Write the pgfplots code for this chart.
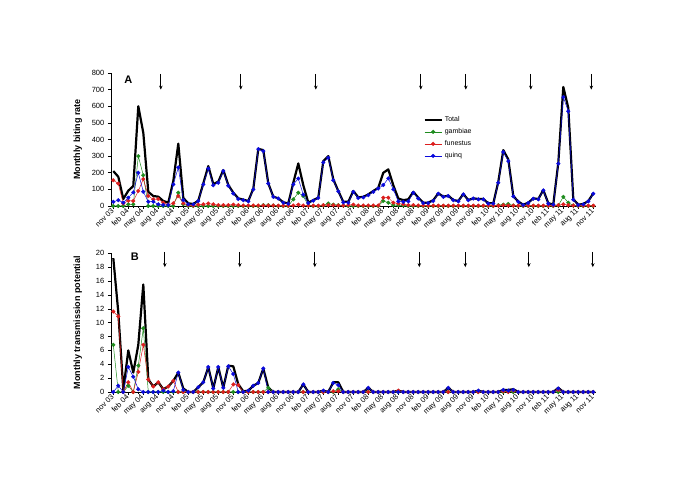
\documentclass[border=0pt]{standalone}
\usepackage{fontspec}
\setmainfont{Liberation Sans}
\usepackage{pgfplots}
\usepackage{pgfplotstable}
\pgfplotsset{compat=1.18}
\usetikzlibrary{arrows.meta}

\definecolor{gamb}{RGB}{30,140,30}
\definecolor{funs}{RGB}{220,30,30}
\definecolor{quin}{RGB}{10,10,220}

% monthly biting rate, nov 03 (i=0) to nov 11 (i=96)
\pgfplotstableread{
i tot gam fun qui
0 210 0 155 25
1 176 0 135 35
2 42 0 15 20
3 92 10 32 50
4 120 10 30 82
5 600 300 90 200
6 440 185 162 86
7 85 0 60 26
8 60 0 40 26
9 56 0 42 10
10 30 0 20 6
11 20 0 8 6
12 150 0 16 130
13 375 80 60 232
14 48 10 16 36
15 16 0 5 10
16 12 0 3 10
17 32 0 8 30
18 136 0 10 130
19 240 0 15 225
20 132 0 10 125
21 146 0 5 140
22 216 0 5 210
23 126 0 5 122
24 80 0 8 75
25 46 0 5 42
26 38 0 3 35
27 30 0 3 28
28 104 0 3 100
29 344 0 3 342
30 336 5 3 330
31 136 5 3 135
32 56 3 3 55
33 46 0 2 45
34 22 0 2 20
35 16 0 2 14
36 140 40 3 130
37 256 80 8 165
38 125 60 3 68
39 20 3 2 18
40 35 0 2 32
41 50 0 2 48
42 270 3 5 262
43 300 15 5 290
44 160 8 5 155
45 90 5 3 88
46 25 3 3 22
47 25 0 5 20
48 90 0 8 85
49 52 0 3 48
50 55 0 3 52
51 70 0 3 65
52 90 0 3 85
53 110 0 3 105
54 200 30 50 126
55 220 20 50 166
56 125 5 20 100
57 45 5 15 28
58 35 3 10 25
59 40 0 5 28
60 85 0 5 80
61 50 0 3 45
62 20 0 3 18
63 20 0 2 18
64 35 0 2 30
65 76 0 2 74
66 56 0 2 55
67 62 0 2 60
68 36 0 2 35
69 30 0 2 28
70 72 0 2 70
71 36 0 2 35
72 46 0 2 45
73 42 0 2 40
74 42 0 2 40
75 16 0 2 15
76 16 0 2 15
77 146 5 2 140
78 336 8 5 325
79 280 12 3 270
80 60 3 2 58
81 26 0 2 25
82 8 0 2 6
83 20 0 2 18
84 46 0 2 44
85 42 0 2 40
86 96 0 2 94
87 16 0 2 14
88 10 0 2 8
89 260 3 5 255
90 716 55 10 655
91 590 20 5 570
92 40 3 3 38
93 8 0 2 6
94 12 0 2 10
95 30 0 2 28
96 76 0 2 74
}\biting

% monthly transmission potential
\pgfplotstableread{
i tot gam fun qui
0 19.3 6.8 11.6 0
1 11.5 0 10.9 0.9
2 0.3 0 0 0
3 6.0 0.9 1.4 3.6
4 2.8 0 0 2.2
5 6.8 3.8 2.9 0.4
6 15.5 9.2 6.8 0
7 1.8 0 1.8 0
8 0.8 0 0.8 0
9 1.4 0 1.4 0
10 0.4 0 0.4 0.2
11 0.8 0 0.8 0
12 1.6 0 1.6 0.1
13 2.8 0 0 2.8
14 0.5 0 0 0.3
15 0 0 0 0
16 0 0 0 0
17 0.7 0 0 0.7
18 1.4 0 0 1.4
19 3.6 0 0 3.6
20 0.5 0 0 0.5
21 3.6 0 0 3.6
22 0.6 0 0 0.6
23 3.8 0 0 3.7
24 3.7 0 1.1 2.6
25 1.1 0 1.0 0
26 0.1 0 0 0
27 0.2 0 0 0.2
28 0.9 0 0 0.9
29 1.3 0 0 1.3
30 3.4 0 0 3.4
31 0.6 0.6 0 0
32 0 0 0 0
33 0 0 0 0
34 0 0 0 0
35 0 0 0 0
36 0 0 0 0
37 0 0 0 0
38 1.1 0 0 1.1
39 0 0 0 0
40 0 0 0 0
41 0 0 0 0
42 0.2 0 0 0.2
43 0 0 0 0
44 1.4 0 0.1 1.3
45 1.4 0.4 0.1 1.0
46 0 0 0 0
47 0 0 0 0
48 0 0 0 0
49 0 0 0 0
50 0 0 0 0
51 0.6 0 0 0.6
52 0 0 0 0
53 0 0 0 0
54 0 0 0 0
55 0 0 0 0
56 0 0 0 0
57 0.2 0 0.2 0
58 0 0 0 0
59 0 0 0 0
60 0 0 0 0
61 0 0 0 0
62 0 0 0 0
63 0 0 0 0
64 0 0 0 0
65 0 0 0 0
66 0 0 0 0
67 0.6 0 0 0.6
68 0 0 0 0
69 0 0 0 0
70 0 0 0 0
71 0 0 0 0
72 0 0 0 0
73 0.2 0 0 0.2
74 0 0 0 0
75 0 0 0 0
76 0 0 0 0
77 0 0 0 0
78 0.3 0 0.1 0.3
79 0.3 0.1 0 0.2
80 0.4 0 0.2 0.3
81 0 0 0 0
82 0 0 0 0
83 0 0 0 0
84 0 0 0 0
85 0 0 0 0
86 0 0 0 0
87 0 0 0 0
88 0 0 0 0
89 0.6 0 0.3 0.5
90 0 0 0 0
91 0 0 0 0
92 0 0 0 0
93 0 0 0 0
94 0 0 0 0
95 0 0 0 0
96 0 0 0 0
}\transm

\pgfplotsset{
  panel/.style={
    scale only axis, width=485pt,
    xmin=-0.5, xmax=96.5,
    axis x line=bottom, axis y line=left,
    axis line style={-, line width=0.6pt},
    xtick={0,3,...,96},
    xticklabels={nov 03,feb 04,may 04,aug 04,nov 04,feb 05,may 05,aug 05,nov 05,
      feb 06,may 06,aug 06,nov 06,feb 07,may 07,aug 07,nov 07,feb 08,may 08,aug 08,
      nov 08,feb 09,may 09,aug 09,nov 09,feb 10,may 10,aug 10,nov 10,feb 11,may 11,
      aug 11,nov 11},
    minor xtick={0,...,96},
    tick align=outside, major tick length=3pt, minor tick length=2pt,
    tick style={black, line width=0.5pt},
    x tick label style={rotate=45, anchor=east, font=\fontsize{7.5}{8}\selectfont, inner sep=1pt},
    y tick label style={font=\fontsize{7.5}{8}\selectfont},
    /pgf/number format/assume math mode=true,
    clip=false,
    ylabel style={font=\bfseries\fontsize{9}{10}\selectfont,
      at={(axis description cs:-0.068,0.5)}, anchor=center},
  },
  tot/.style={black, line width=2.2pt, line join=round, no markers},
  ser/.style={#1, line width=0.5pt, mark=*, mark size=1.9pt,
    mark options={fill=#1, draw=#1, line width=0.3pt}},
}

\begin{document}
\begin{tikzpicture}[x=1pt,y=1pt]
\useasboundingbox (0,0) rectangle (685,484);

\begin{axis}[panel, at={(110.8pt,278pt)}, anchor=south west, height=133pt,
  ymin=0, ymax=800, ytick={0,100,...,800},
  ylabel={Monthly biting rate},
  legend style={at={(axis cs:62,552)}, anchor=north west, draw=none, fill=none,
    font=\fontsize{7}{8}\selectfont, inner sep=0pt, row sep=1.5pt},
  legend cell align=left]
\addplot[tot] table[x=i,y=tot]{\biting};
\addlegendentry{Total}
\addplot[ser=gamb] table[x=i,y=gam]{\biting};
\addlegendentry{gambiae}
\addplot[ser=funs] table[x=i,y=fun]{\biting};
\addlegendentry{funestus}
\addplot[ser=quin] table[x=i,y=qui]{\biting};
\addlegendentry{quinq}
\node[font=\bfseries\fontsize{11}{12}\selectfont] at (axis cs:3,762) {A};
\pgfplotsinvokeforeach{9.5,25.5,40.5,61.5,70.5,83.5,95.6}{
  \draw[-{Stealth[length=4pt,width=3.5pt]}, line width=0.8pt] (axis cs:#1,795) -- (axis cs:#1,700);
}
\end{axis}

\begin{axis}[panel, at={(110.8pt,92pt)}, anchor=south west, height=138.7pt,
  ymin=0, ymax=20, ytick={0,2,...,20},
  ylabel={Monthly transmission potential}]
\addplot[tot] table[x=i,y=tot]{\transm};
\addplot[ser=gamb] table[x=i,y=gam]{\transm};
\addplot[ser=funs] table[x=i,y=fun]{\transm};
\addplot[ser=quin] table[x=i,y=qui]{\transm};
\node[font=\bfseries\fontsize{11}{12}\selectfont] at (axis cs:4.3,19.5) {B};
\pgfplotsinvokeforeach{10.3,25.3,40.3,61.2,70.4,83.1,95.9}{
  \draw[-{Stealth[length=4pt,width=3.5pt]}, line width=0.8pt] (axis cs:#1,20.2) -- (axis cs:#1,18.0);
}
\end{axis}
\end{tikzpicture}
\end{document}
